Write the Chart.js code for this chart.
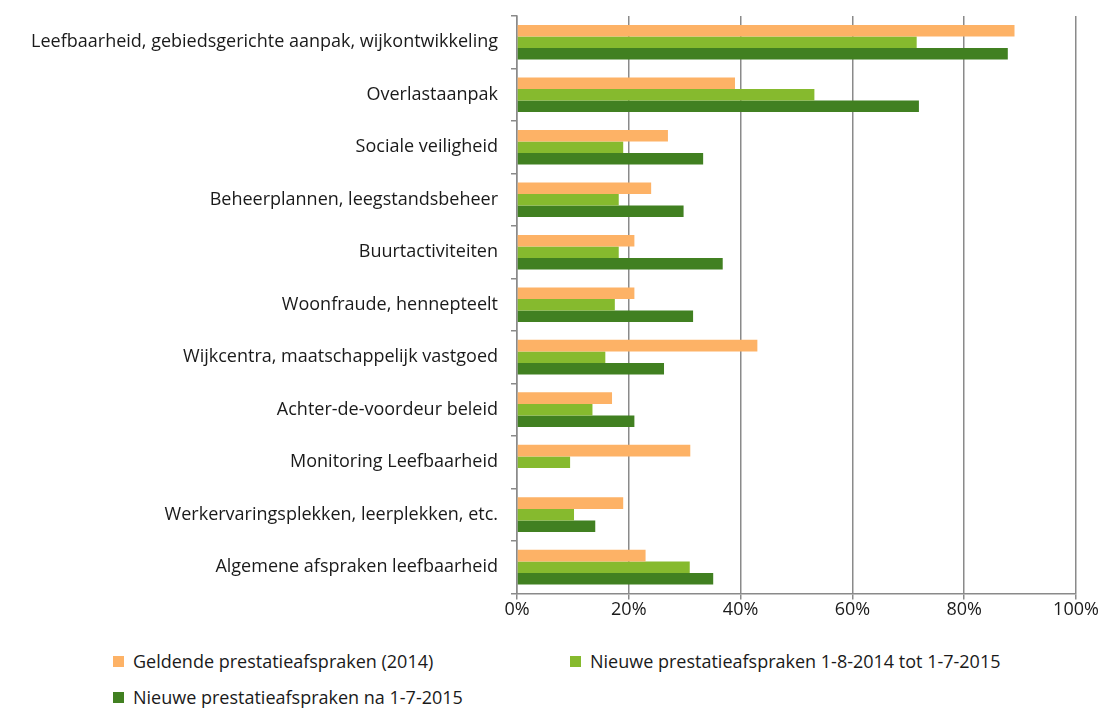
<!DOCTYPE html>
<html>
<head>
<meta charset="utf-8">
<script src="https://cdn.jsdelivr.net/npm/chart.js@4.4.1/dist/chart.umd.min.js"></script>
<style>
  body { margin: 0; background: #fff; font-family: "Open Sans", sans-serif; }
  #wrap { position: relative; width: 1102px; height: 621px; }
  #legend { position: relative; width: 1102px; height: 90px; font-size: 18px; color: #1a1a1a; }
  .item { position: absolute; display: flex; align-items: center; white-space: nowrap; line-height: 24px; }
  .box { width: 11px; height: 11px; margin-right: 9px; }
</style>
</head>
<body>
<div id="wrap"><canvas id="chart"></canvas></div>
<div id="legend"></div>
<script>
// categorieen (van boven naar beneden)
const categories = [
  "Leefbaarheid, gebiedsgerichte aanpak, wijkontwikkeling",
  "Overlastaanpak",
  "Sociale veiligheid",
  "Beheerplannen, leegstandsbeheer",
  "Buurtactiviteiten",
  "Woonfraude, hennepteelt",
  "Wijkcentra, maatschappelijk vastgoed",
  "Achter-de-voordeur beleid",
  "Monitoring Leefbaarheid",
  "Werkervaringsplekken, leerplekken, etc.",
  "Algemene afspraken leefbaarheid"
];

const seriesNames = [
  "Geldende prestatieafspraken (2014)",
  "Nieuwe prestatieafspraken 1-8-2014 tot 1-7-2015",
  "Nieuwe prestatieafspraken na 1-7-2015"
];

// percentages
const geldend2014 = [89, 39, 27, 24, 21, 21, 43, 17, 31, 19, 23];
const nieuw2014_2015 = [71.5, 53.2, 19, 18.2, 18.2, 17.5, 15.8, 13.5, 9.5, 10.2, 30.9];
const nieuwNa2015 = [87.8, 71.9, 33.3, 29.8, 36.8, 31.5, 26.3, 21, 0, 14, 35.1];

const xTicks = [0, 20, 40, 60, 80, 100];

const colors = ["#FDB266", "#86BA2E", "#418021"];

const ctx = document.getElementById("chart").getContext("2d");
ctx.canvas.width = 1102;
ctx.canvas.height = 621;

const chart = new Chart(ctx, {
  type: "bar",
  data: {
    labels: categories,
    datasets: [
      { label: seriesNames[0], data: geldend2014, backgroundColor: colors[0] },
      { label: seriesNames[1], data: nieuw2014_2015, backgroundColor: colors[1] },
      { label: seriesNames[2], data: nieuwNa2015, backgroundColor: colors[2] }
    ]
  },
  options: {
    responsive: false,
    animation: false,
    indexAxis: "y",
    layout: { padding: { top: 16, right: 26, bottom: 0, left: 0 } },
    datasets: { bar: { barPercentage: 1, categoryPercentage: 0.66 } },
    plugins: { legend: { display: false }, tooltip: { enabled: false } },
    scales: {
      x: {
        min: 0,
        max: 100,
        afterBuildTicks: (scale) => {
          scale.ticks = xTicks.map((v) => ({ value: v }));
        },
        grid: { color: "#8a8a8a", lineWidth: 1.5, tickLength: 6, drawTicks: true },
        border: { color: "#8a8a8a", width: 1.5 },
        ticks: {
          color: "#1a1a1a",
          font: { family: "Open Sans", size: 18 },
          padding: 0,
          callback: (v) => v + "%"
        }
      },
      y: {
        afterFit: (scale) => {
          scale.width = 517;
          scale.paddingTop = 0;
          scale.paddingBottom = 0;
        },
        grid: { offset: true, drawOnChartArea: false, color: "#8a8a8a", lineWidth: 1.5, tickLength: 6 },
        border: { color: "#8a8a8a", width: 1.5 },
        ticks: {
          color: "#1a1a1a",
          font: { family: "Open Sans", size: 18 },
          padding: 13
        }
      }
    }
  }
});

// legenda in twee kolommen, zoals het origineel
const legendPos = [
  { left: 113, top: 28 },
  { left: 570, top: 28 },
  { left: 113, top: 64 }
];
const legend = document.getElementById("legend");
seriesNames.forEach((name, i) => {
  const item = document.createElement("div");
  item.className = "item";
  item.style.left = legendPos[i].left + "px";
  item.style.top = legendPos[i].top + "px";
  item.innerHTML = '<span class="box" style="background:' + colors[i] + '"></span><span>' + name + "</span>";
  legend.appendChild(item);
});
</script>
</body>
</html>
